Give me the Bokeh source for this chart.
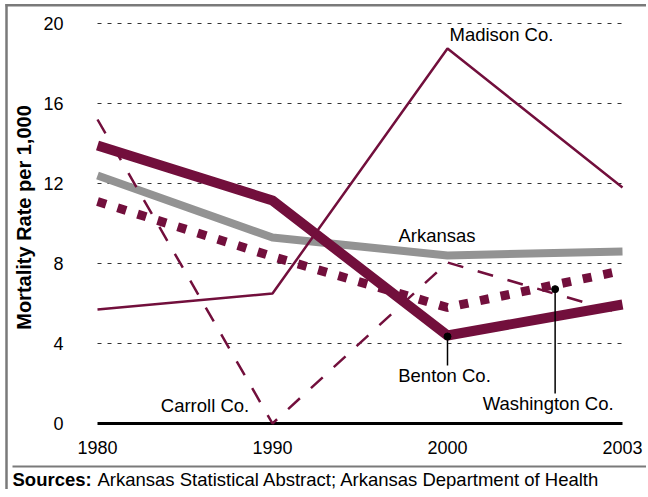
import math
from bokeh.plotting import figure
from bokeh.models import Range1d
from bokeh.core.properties import value
from bokeh.embed import file_html
from bokeh.resources import INLINE

# ---------------- data ----------------
years = ["1980", "1990", "2000", "2003"]
arkansas = [12.4, 9.3, 8.4, 8.6]
benton = [13.9, 11.15, 4.4, 5.95]
washington = [11.1, 8.35, 5.8, 7.65]
madison = [5.7, 6.5, 18.75, 11.8]
carroll = [15.2, 0.0, 8.05, 5.5]
y_ticks = [0, 4, 8, 12, 16, 20]
y_tick_labels = [str(t) for t in y_ticks]

# ---------------- style / layout ----------------
MAROON = "#720f3c"
GRAY = "#939393"
FRAME_GRAY = "#7a7a7a"
FONT = value("Liberation Sans")
W, H = 646, 489
X0_PX, X_STEP = 97, 175      # canvas px of first category, px per category
Y0_PX, Y_STEP = 423, 20      # canvas px of value 0, px per unit

x = list(range(len(years)))


def dx(px):  # canvas px -> data x
    return (px - X0_PX) / X_STEP


def dy(py):  # canvas px -> data y
    return (Y0_PX - py) / Y_STEP


p = figure(width=W, height=H, output_backend="svg", toolbar_location=None,
           title=None, x_axis_type=None, y_axis_type=None,
           x_range=Range1d(dx(0), dx(W)), y_range=Range1d(dy(H), dy(0)),
           min_border=0)
p.outline_line_color = None
p.grid.visible = False

# frame decorations: top border, left border, source separator
p.segment(x0=[dx(5), dx(6)], x1=[dx(W), dx(6)], y0=[dy(4.8), dy(3.5)], y1=[dy(4.8), dy(H)],
          line_color=FRAME_GRAY, line_width=2.5)
p.segment(x0=[dx(12)], x1=[dx(W)], y0=[dy(466)], y1=[dy(466)],
          line_color=FRAME_GRAY, line_width=2)

# gridlines
g = y_ticks[1:]
p.segment(x0=[x[0]] * len(g), x1=[x[-1]] * len(g), y0=g, y1=g,
          line_color="#333333", line_width=1, line_dash="4 6")
# baseline
p.line([x[0], x[-1]], [y_ticks[0], y_ticks[0]], line_color="black", line_width=3)

# tick labels
p.text(x=[x[0]] * len(y_ticks), y=y_ticks, text=y_tick_labels, x_offset=-34,
       text_align="right", text_baseline="middle", text_font=FONT,
       text_font_size="18px", text_color="black")
p.text(x=x, y=[y_ticks[0]] * len(x), text=years, y_offset=23.5,
       text_align="center", text_baseline="middle", text_font=FONT,
       text_font_size="18px", text_color="black")
# axis title
p.text(x=[x[0]], y=[(y_ticks[0] + y_ticks[-1]) / 2], text=["Mortality Rate per 1,000"],
       x_offset=-74, y_offset=-6, angle=math.pi / 2,
       text_align="center", text_baseline="middle", text_font=FONT,
       text_font_size="20px", text_font_style="bold", text_color="black")

# series
p.line(x, arkansas, line_color=GRAY, line_width=8, line_join="round")
p.line(x, washington, line_color=MAROON, line_width=9, line_dash="9 12")
p.line(x, benton, line_color=MAROON, line_width=10, line_join="round")
p.line(x, carroll, line_color=MAROON, line_width=2.5, line_dash="16 15")
p.line(x, madison, line_color=MAROON, line_width=2.5)

# leader lines and dots
frac = 0.615
wash_dot = washington[2] + (washington[3] - washington[2]) * frac - 0.22
ben_dot = benton[2] - 0.05
p.segment(x0=[x[2], x[2] + frac], x1=[x[2], x[2] + frac],
          y0=[ben_dot, wash_dot], y1=[dy(365), dy(393)],
          line_color="black", line_width=1.5)
p.scatter([x[2], x[2] + frac], [ben_dot, wash_dot], size=7, color="black")


def lab(text, xx, yy, ox, oy, align="left"):
    p.text(x=[xx], y=[yy], text=[text], x_offset=ox, y_offset=oy,
           text_align=align, text_baseline="middle", text_font=FONT,
           text_font_size="18.5px", text_color="black")


lab("Madison Co.", x[2], madison[2], 2, -14.5)
lab("Arkansas", x[2], arkansas[2], -10.5, -20, "center")
lab("Benton Co.", x[2], ben_dot, -3, 39, "center")
lab("Washington Co.", x[2] + frac, wash_dot, -7, 114.4, "center")
lab("Carroll Co.", x[1], carroll[1], -67.5, -18, "center")

# sources
p.text(x=[x[0]], y=[y_ticks[0]], text=["Sources:"], x_offset=-85, y_offset=56,
       text_align="left", text_baseline="middle", text_font=FONT,
       text_font_size="18.5px", text_font_style="bold", text_color="black")
p.text(x=[x[0]], y=[y_ticks[0]], text=["Arkansas Statistical Abstract; Arkansas Department of Health"],
       x_offset=0, y_offset=56,
       text_align="left", text_baseline="middle", text_font=FONT,
       text_font_size="18.5px", text_color="black")

open("out.html", "w").write(file_html(p, INLINE))
